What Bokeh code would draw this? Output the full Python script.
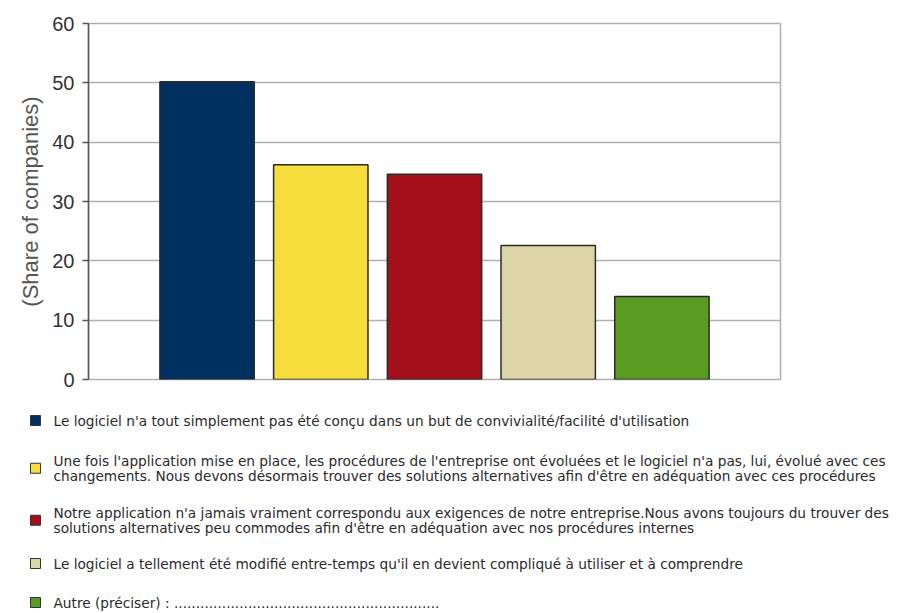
from bokeh.plotting import figure
from bokeh.models import Range1d, ColumnDataSource
from bokeh.layouts import column
from bokeh.core.properties import value
from bokeh.embed import file_html
from bokeh.resources import INLINE

# ---- data ----
values = [50.2, 36.2, 34.6, 22.6, 14.0]
colors = ["#00305f", "#f6dd3c", "#a30f1a", "#ddd5a8", "#5a9b22"]
legend_labels = [
    "Le logiciel n'a tout simplement pas été conçu dans un but de convivialité/facilité d'utilisation",
    "Une fois l'application mise en place, les procédures de l'entreprise ont évoluées et le logiciel n'a pas, lui, évolué avec ces\nchangements. Nous devons désormais trouver des solutions alternatives afin d'être en adéquation avec ces procédures",
    "Notre application n'a jamais vraiment correspondu aux exigences de notre entreprise.Nous avons toujours du trouver des\nsolutions alternatives peu commodes afin d'être en adéquation avec nos procédures internes",
    "Le logiciel a tellement été modifié entre-temps qu'il en devient compliqué à utiliser et à comprendre",
    "Autre (préciser) : " + "." * 61,
]
y_ticks = [0, 10, 20, 30, 40, 50, 60]
y_label = "(Share of companies)"

W = 904
H1 = 395
H2 = 216

# ---- chart ----
positions = list(range(1, len(values) + 1))
p = figure(width=W, height=H1, output_backend="svg", toolbar_location=None,
           x_range=Range1d(-0.043, 6.043), y_range=Range1d(0, 60),
           min_border_left=88, min_border_right=W - 780, min_border_top=23, min_border_bottom=H1 - 379)
p.frame_align = False
src = ColumnDataSource(dict(x=positions, top=values, color=colors))
p.vbar(x="x", top="top", width=0.83, bottom=0, fill_color="color", line_color="#2a2a2a", line_width=1.5, source=src)
p.xaxis.visible = False
p.xgrid.visible = False
p.ygrid.grid_line_color = "#b0b0b0"
p.ygrid.grid_line_width = 1.5
p.outline_line_color = "#b0b0b0"
p.outline_line_width = 1.5
ya = p.yaxis[0]
ya.ticker = y_ticks
ya.axis_line_color = "#555555"
ya.axis_line_width = 1.5
ya.major_tick_line_color = "#555555"
ya.major_tick_line_width = 1.5
ya.major_tick_out = 6
ya.major_tick_in = 0
ya.minor_tick_line_color = None
ya.major_label_text_font = "Liberation Sans"
ya.major_label_text_font_size = "20px"
ya.major_label_text_color = "#333333"
ya.major_label_standoff = 8
ya.axis_label = y_label
ya.axis_label_text_font = "Liberation Sans"
ya.axis_label_text_font_size = "22px"
ya.axis_label_text_font_style = "normal"
ya.axis_label_text_color = "#555555"
ya.axis_label_standoff = 6
p.background_fill_color = "white"
p.border_fill_color = "white"

# ---- legend (separate figure, page-pixel coordinates) ----
lg = figure(width=W, height=H2, output_backend="svg", toolbar_location=None,
            x_range=Range1d(0, W), y_range=Range1d(H1 + H2, H1),
            min_border=0)
lg.frame_align = False
lg.axis.visible = False
lg.grid.visible = False
lg.outline_line_color = None

item_top = [420, 460, 512, 563, 602]
line_h = 15.5
tx, ty, txt = [], [], []
sx, sy, sc = [], [], []
for i, lab in enumerate(legend_labels):
    lines = lab.split("\n")
    for j, ln in enumerate(lines):
        tx.append(53)
        ty.append(item_top[i] + j * line_h)
        txt.append(ln)
    sx.append(35)
    sy.append(item_top[i] + (len(lines) - 1) * line_h / 2)
    sc.append(colors[i])

lg.rect(x=sx, y=sy, width=10, height=10, fill_color=sc, line_color="#333333", line_width=1)
lg.text(x=tx, y=ty, text=txt, text_font=value("DejaVu Sans"), text_font_size="13.7px",
        text_color="#2a2a2a", text_baseline="middle", text_align="left")

layout = column(p, lg, spacing=0)
open("out.html", "w").write(file_html(layout, INLINE))
